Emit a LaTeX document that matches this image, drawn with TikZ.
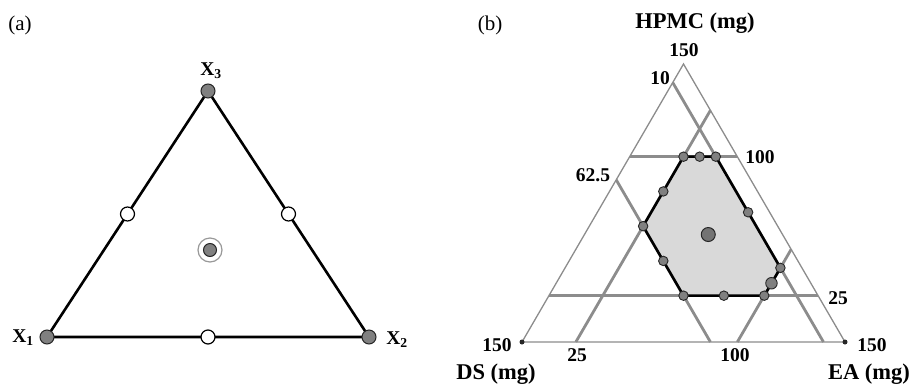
\documentclass[tikz,border=0pt]{standalone}
\usepackage{fontspec}
\setmainfont{Liberation Serif}
\usetikzlibrary{calc}
\tikzset{
  edgeA/.style={line width=2.6pt, black},
  fulldot/.style={circle, draw=black!85, line width=1pt, fill=black!50, inner sep=0pt, minimum size=14pt},
  opendot/.style={circle, draw=black, line width=1.2pt, fill=white, inner sep=0pt, minimum size=14pt},
  ringdot/.style={circle, draw=black!40, line width=1.2pt, fill=white, inner sep=0pt, minimum size=24pt},
  outer/.style={line width=1.3pt, black!45},
  grid/.style={line width=2.8pt, black!45},
  region/.style={fill=black!15, draw=black, line width=2.6pt, line join=round},
  pdot/.style={circle, draw=black!85, line width=0.9pt, fill=black!50, inner sep=0pt, minimum size=9.5pt},
  cdot/.style={circle, draw=black!85, line width=1pt, fill=black!55, inner sep=0pt, minimum size=14pt},
  corner/.style={circle, fill=black!85, inner sep=0pt, minimum size=5pt},
  lab/.style={font=\fontsize{19.5}{20}\selectfont\bfseries, inner sep=0pt},
  axlab/.style={font=\fontsize{22.5}{24}\selectfont\bfseries, inner sep=0pt},
  plab/.style={font=\fontsize{21}{22}\selectfont, inner sep=0pt}
}
\newcommand\tpt[3]{\coordinate (#1) at ({522+2.1533*(#3+#2/2)},{342-1.8533*#2});}
\begin{document}
\begin{tikzpicture}[x=1pt,y=-1pt]
\useasboundingbox (0,0) rectangle (923,386);
% ---------- panel (a)
\node[plab] (la) at (20,25) {(a)};
\coordinate (X1) at (47,337);
\coordinate (X2) at (369,337);
\coordinate (X3) at (208,91);
\draw[edgeA, line join=round] (X1) -- (X2) -- (X3) -- cycle;
\node[opendot] (m12) at ($(X1)!0.5!(X2)$) {};
\node[opendot] (m13) at ($(X1)!0.5!(X3)$) {};
\node[opendot] (m23) at ($(X2)!0.5!(X3)$) {};
\node[fulldot] (d1) at (X1) {};
\node[fulldot] (d2) at (X2) {};
\node[fulldot] (d3) at (X3) {};
\node[ringdot] (cring) at (210,250) {};
\node[fulldot, minimum size=13pt] (cen) at (210,250) {};
\node[lab] (lx1) at (23,338) {X\textsubscript{1}};
\node[lab] (lx2) at (397,340) {X\textsubscript{2}};
\node[lab] (lx3) at (211,71) {X\textsubscript{3}};
% ---------- panel (b)
\node[plab] (lb) at (490,25) {(b)};
\tpt{A}{0}{0}
\tpt{B}{0}{150}
\tpt{C}{150}{0}
% grid line end points
\tpt{h100a}{100}{0}  \tpt{h100b}{100}{50}
\tpt{h25a}{25}{0}    \tpt{h25b}{25}{125}
\tpt{d10a}{140}{0}   \tpt{d10b}{0}{140}
\tpt{d62a}{87.5}{0}  \tpt{d62b}{0}{87.5}
\tpt{e25a}{0}{25}    \tpt{e25b}{125}{25}
\tpt{e100a}{0}{100}  \tpt{e100b}{50}{100}
\draw[outer, line join=miter] (A) -- (B) -- (C) -- cycle;
\draw[grid] (h100a) -- (h100b);
\draw[grid] (h25a) -- (h25b);
\draw[grid] (d10a) -- (d10b);
\draw[grid] (d62a) -- (d62b);
\draw[grid] (e25a) -- (e25b);
\draw[grid] (e100a) -- (e100b);
% region vertices
\tpt{v1}{100}{25}
\tpt{v2}{100}{40}
\tpt{v3}{40}{100}
\tpt{v4}{25}{100}
\tpt{v5}{25}{62.5}
\tpt{v6}{62.5}{25}
\draw[region] (v1) -- (v2) -- (v3) -- (v4) -- (v5) -- (v6) -- cycle;
\tpt{w12}{100}{32.5}
\tpt{w23}{70}{70}
\tpt{w34}{31.7}{100}
\tpt{w45}{25}{81.25}
\tpt{w56}{43.75}{43.75}
\tpt{w61}{81.25}{25}
\tpt{ctr}{58}{57.5}
\foreach \p in {v1,v2,v3,v4,v5,v6,w12,w23,w45,w56,w61}
  \node[pdot] (n\p) at (\p) {};
\node[pdot, minimum size=11.5pt] (nw34) at (w34) {};
\node[cdot] (nctr) at (ctr) {};
\node[corner] (cA) at (A) {};
\node[corner] (cB) at (B) {};
% labels
\node[axlab] (lh) at (695,23) {HPMC (mg)};
\node[axlab] (ld) at (496,374) {DS (mg)};
\node[axlab] (le) at (869,374) {EA (mg)};
\node[lab] (t150) at (684,50) {150};
\node[lab] (t10) at (660,78) {10};
\node[lab] (t625) at (593,175) {62.5};
\node[lab] (r100) at (760,157) {100};
\node[lab] (r25) at (838,298) {25};
\node[lab] (l150) at (497,345) {150};
\node[lab] (b25) at (577,355) {25};
\node[lab] (rr150) at (872,345) {150};
\node[lab] (b100) at (735,355) {100};
\end{tikzpicture}
\end{document}
